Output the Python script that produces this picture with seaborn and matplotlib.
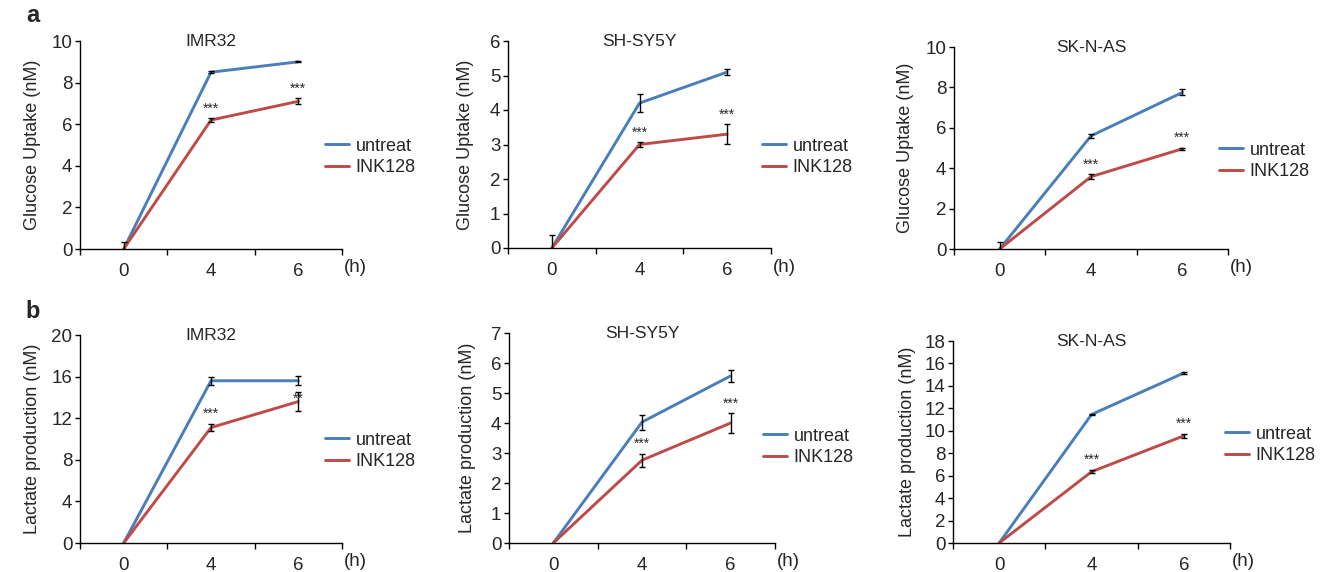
import matplotlib

matplotlib.use("Agg")
import matplotlib.pyplot as plt
import pandas as pd
import seaborn as sns

# =========================
# DATA
# =========================
hours = ["0", "4", "6"]
groups = ["untreat", "INK128"]
cell_lines = ["IMR32", "SH-SY5Y", "SK-N-AS"]

# glucose uptake (nM), mean and error
glucose_untreat = {"IMR32": [0.0, 8.5, 9.0], "SH-SY5Y": [0.0, 4.2, 5.1], "SK-N-AS": [0.0, 5.6, 7.75]}
glucose_untreat_err = {"IMR32": [0.33, 0.05, 0.03], "SH-SY5Y": [0.38, 0.27, 0.08], "SK-N-AS": [0.33, 0.1, 0.15]}
glucose_ink = {"IMR32": [0.0, 6.2, 7.1], "SH-SY5Y": [0.0, 3.0, 3.3], "SK-N-AS": [0.0, 3.58, 4.96]}
glucose_ink_err = {"IMR32": [0.0, 0.08, 0.15], "SH-SY5Y": [0.0, 0.07, 0.29], "SK-N-AS": [0.0, 0.12, 0.05]}

# lactate production (nM), mean and error
lactate_untreat = {"IMR32": [0.0, 15.6, 15.6], "SH-SY5Y": [0.0, 4.03, 5.57], "SK-N-AS": [0.0, 11.45, 15.15]}
lactate_untreat_err = {"IMR32": [0.0, 0.4, 0.45], "SH-SY5Y": [0.0, 0.25, 0.21], "SK-N-AS": [0.0, 0.08, 0.1]}
lactate_ink = {"IMR32": [0.0, 11.1, 13.6], "SH-SY5Y": [0.0, 2.76, 4.0], "SK-N-AS": [0.0, 6.35, 9.55]}
lactate_ink_err = {"IMR32": [0.0, 0.37, 0.95], "SH-SY5Y": [0.0, 0.22, 0.32], "SK-N-AS": [0.0, 0.15, 0.2]}

# significance marks above INK128 points
glucose_stars = {"IMR32": ["", "***", "***"], "SH-SY5Y": ["", "***", "***"], "SK-N-AS": ["", "***", "***"]}
lactate_stars = {"IMR32": ["", "***", "**"], "SH-SY5Y": ["", "***", "***"], "SK-N-AS": ["", "***", "***"]}

glucose_yticks = {"IMR32": [0, 2, 4, 6, 8, 10], "SH-SY5Y": [0, 1, 2, 3, 4, 5, 6], "SK-N-AS": [0, 2, 4, 6, 8, 10]}
lactate_yticks = {"IMR32": [0, 4, 8, 12, 16, 20], "SH-SY5Y": [0, 1, 2, 3, 4, 5, 6, 7],
                  "SK-N-AS": [0, 2, 4, 6, 8, 10, 12, 14, 16, 18]}

# =========================
# STYLE / LAYOUT
# =========================
W, H = 1326, 572
PALETTE = {"untreat": "#4A7EBB", "INK128": "#BE4B48"}
FONT = ["Liberation Sans", "DejaVu Sans"]

# axes boxes in pixels: (left, top, right, bottom)
AX_BOXES = {
    ("a", "IMR32"): (80, 41, 342, 249),
    ("a", "SH-SY5Y"): (508, 41, 771, 248),
    ("a", "SK-N-AS"): (954, 47, 1228, 249),
    ("b", "IMR32"): (80, 335, 342, 543),
    ("b", "SH-SY5Y"): (509, 333, 775, 543),
    ("b", "SK-N-AS"): (953, 341, 1230, 543),
}
# distance (px) from the y axis to the right edge of the y label
YLABEL_GAP = {
    ("a", "IMR32"): 39, ("a", "SH-SY5Y"): 34, ("a", "SK-N-AS"): 40,
    ("b", "IMR32"): 39, ("b", "SH-SY5Y"): 33, ("b", "SK-N-AS"): 37,
}
# legend anchor (left of handle, middle of the two rows) in pixels
LEGEND_POS = {
    ("a", "IMR32"): (325, 157),
    ("a", "SH-SY5Y"): (762, 157),
    ("a", "SK-N-AS"): (1219, 161),
    ("b", "IMR32"): (325, 451),
    ("b", "SH-SY5Y"): (763, 447),
    ("b", "SK-N-AS"): (1225, 445),
}
STAR_OFFSET = {("b", "IMR32", 2): -10}

sns.set_style("ticks")
plt.rcParams["font.family"] = FONT


def draw_panel(fig, row, line, untreat, untreat_err, ink, ink_err, stars, yticks, ylabel):
    l, t, r, b = AX_BOXES[(row, line)]
    ax = fig.add_axes([l / W, 1 - b / H, (r - l) / W, (b - t) / H])

    df = pd.DataFrame({
        "time": hours * 2,
        "value": untreat + ink,
        "group": [groups[0]] * len(hours) + [groups[1]] * len(hours),
    })
    sns.lineplot(data=df, x="time", y="value", hue="group", hue_order=groups,
                 palette=PALETTE, linewidth=2.1, ax=ax, legend=True, sort=False)

    for vals, errs in [(untreat, untreat_err), (ink, ink_err)]:
        sel = [i for i, e in enumerate(errs) if e > 0]
        ax.errorbar([hours[i] for i in sel], [vals[i] for i in sel], yerr=[errs[i] for i in sel],
                    fmt="none", ecolor="black", elinewidth=1.0, capsize=2.5, capthick=1.0, zorder=5)

    for i, s in enumerate(stars):
        if not s:
            continue
        off = STAR_OFFSET.get((row, line, i), 2)
        ax.annotate(s, xy=(hours[i], ink[i] + ink_err[i]), xytext=(0, off), textcoords="offset points",
                    ha="center", va="bottom", fontsize=10, color="#2a2a2a")

    ax.set_xlim(-0.5, len(hours) - 0.5)
    ax.set_ylim(yticks[0], yticks[-1])
    ax.set_yticks(yticks)
    ax.set_xticks([i - 0.5 for i in range(len(hours) + 1)])
    ax.set_xticklabels([])
    ax.set_xticks(range(len(hours)), minor=True)
    ax.set_xticklabels(hours, minor=True)
    ax.tick_params(axis="x", which="major", length=4, width=1, direction="out", color="black")
    ax.tick_params(axis="x", which="minor", length=0, pad=10, labelsize=13.5)
    ax.tick_params(axis="y", length=3.5, width=1, direction="out", color="black", labelsize=13.5, pad=2)
    ax.set_xlabel("")
    ax.set_ylabel(ylabel, fontsize=13)
    ax.yaxis.set_label_coords(-YLABEL_GAP[(row, line)] / (r - l), 0.5)
    for side in ["left", "bottom"]:
        ax.spines[side].set_color("black")
        ax.spines[side].set_linewidth(1.0)
    sns.despine(ax=ax)

    ax.annotate("(h)", xy=(1, 0), xycoords="axes fraction", xytext=(2, -19), textcoords="offset pixels",
                ha="left", va="center", fontsize=13.5)
    ax.text(0.5, 1.0, line, transform=ax.transAxes, ha="center", va="center", fontsize=12.5)

    lx, ly = LEGEND_POS[(row, line)]
    ax.legend(title=None, loc="center left", bbox_to_anchor=(lx / W, 1 - ly / H),
              bbox_transform=fig.transFigure, frameon=False, fontsize=13, handlelength=1.35,
              handletextpad=0.35, labelspacing=0.25, borderpad=0, borderaxespad=0)
    return ax


fig = plt.figure(figsize=(W / 100, H / 100), dpi=100)

for line in cell_lines:
    draw_panel(fig, "a", line, glucose_untreat[line], glucose_untreat_err[line], glucose_ink[line],
               glucose_ink_err[line], glucose_stars[line], glucose_yticks[line], "Glucose Uptake (nM)")
    draw_panel(fig, "b", line, lactate_untreat[line], lactate_untreat_err[line], lactate_ink[line],
               lactate_ink_err[line], lactate_stars[line], lactate_yticks[line], "Lactate production (nM)")

fig.text(33 / W, 1 - 16 / H, "a", fontsize=17, fontweight="bold", ha="center", va="center")
fig.text(33 / W, 1 - 312 / H, "b", fontsize=17, fontweight="bold", ha="center", va="center")

fig.savefig("out.png", dpi=100)
